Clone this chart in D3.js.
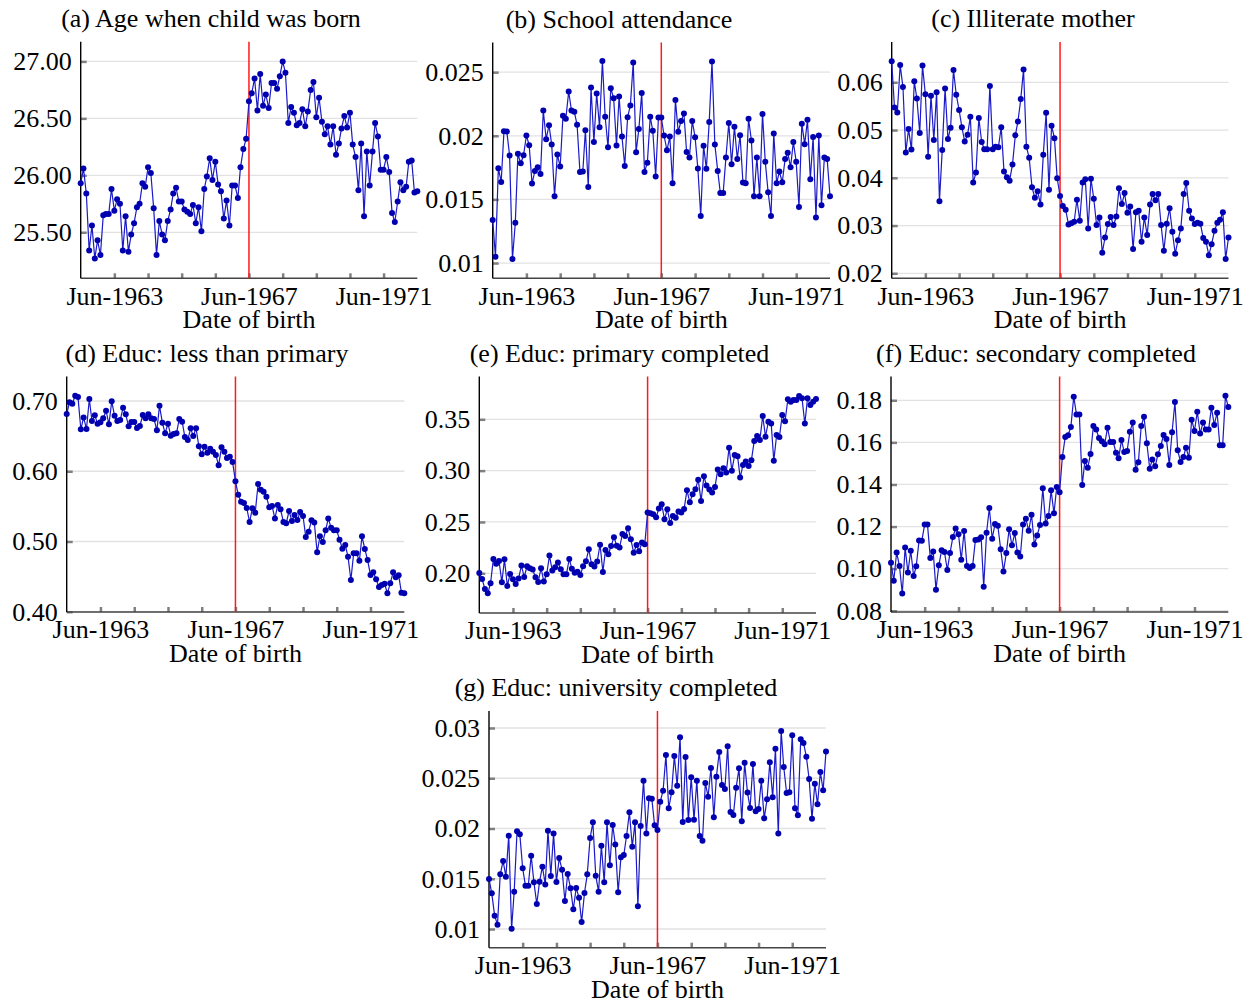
<!DOCTYPE html>
<html>
<head>
<meta charset="utf-8">
<script src="https://cdn.jsdelivr.net/npm/d3@7"></script>
<style>
  body { margin: 0; background: #fff; }
  svg { display: block; }
</style>
</head>
<body>
<svg id="chart" width="1255" height="1004"></svg>
<script>
// monthly birth cohorts, Jun-1962 .. Jun-1972
const months = d3.timeMonth.range(new Date(1962, 5, 1), new Date(1972, 6, 1));
const cutoff = new Date(1967, 5, 1);
const tickYears = [1963, 1964, 1965, 1966, 1967, 1968, 1969, 1970, 1971];
const labelYears = [1963, 1967, 1971];

const ageBorn = [25.93, 26.06, 25.84, 25.34, 25.56, 25.27, 25.43, 25.30, 25.65, 25.66, 25.66, 25.88, 25.69, 25.79, 25.75, 25.34, 25.64, 25.33, 25.48, 25.58, 25.72, 25.75, 25.93, 25.90, 26.07, 26.02, 25.71, 25.30, 25.60, 25.48, 25.43, 25.60, 25.70, 25.84, 25.89, 25.77, 25.77, 25.70, 25.68, 25.66, 25.74, 25.58, 25.72, 25.51, 25.88, 25.99, 26.15, 25.96, 26.12, 25.92, 25.86, 25.62, 25.78, 25.56, 25.91, 25.91, 25.80, 26.07, 26.23, 26.32,
  26.65, 26.72, 26.85, 26.57, 26.89, 26.61, 26.71, 26.59, 26.81, 26.81, 26.76, 26.87, 27.00, 26.90, 26.46, 26.60, 26.55, 26.44, 26.46, 26.58, 26.43, 26.56, 26.75, 26.82, 26.51, 26.68, 26.47, 26.36, 26.43, 26.27, 26.43, 26.18, 26.28, 26.41, 26.52, 26.42, 26.55, 26.27, 26.16, 25.87, 26.28, 25.64, 26.21, 25.91, 26.21, 26.46, 26.34, 26.05, 26.05, 26.16, 26.03, 25.67, 25.59, 25.77, 25.94, 25.87, 25.90, 26.12, 26.13, 25.85, 25.86];

const schoolAttend = [0.01338, 0.01050, 0.01745, 0.01637, 0.02036, 0.02033, 0.01845, 0.01032, 0.01317, 0.01858, 0.01784, 0.01847, 0.02002, 0.01926, 0.01624, 0.01724, 0.01753, 0.01700, 0.02198, 0.01973, 0.02083, 0.01931, 0.01525, 0.01852, 0.01758, 0.02157, 0.02133, 0.02348, 0.02198, 0.02188, 0.02086, 0.01716, 0.01719, 0.02044, 0.01598, 0.02379, 0.01952, 0.02332, 0.02067, 0.02587, 0.02149, 0.01910, 0.02374, 0.02295, 0.01923, 0.02309, 0.01994, 0.01763, 0.02146, 0.02238, 0.02576, 0.01871, 0.02054, 0.02337, 0.01716, 0.01789, 0.02149, 0.02039, 0.01679, 0.02143,
  0.02143, 0.02002, 0.01886, 0.01994, 0.01627, 0.02282, 0.02031, 0.02117, 0.02175, 0.01873, 0.01829, 0.02117, 0.01989, 0.01742, 0.01370, 0.01921, 0.01740, 0.02109, 0.02584, 0.01931, 0.01724, 0.01551, 0.01551, 0.01829, 0.02101, 0.01776, 0.02070, 0.01818, 0.02004, 0.01632, 0.01627, 0.02133, 0.01963, 0.01525, 0.01829, 0.01525, 0.02172, 0.01795, 0.01556, 0.01370, 0.02018, 0.01627, 0.01719, 0.01635, 0.01818, 0.01866, 0.01753, 0.01952, 0.01795, 0.01441, 0.02094, 0.01934, 0.02125, 0.01658, 0.01991, 0.01357, 0.02002, 0.01454, 0.01829, 0.01818, 0.01525];

const illiterate = [0.0644, 0.0547, 0.0537, 0.0636, 0.0590, 0.0453, 0.0502, 0.0459, 0.0602, 0.0566, 0.0494, 0.0635, 0.0575, 0.0444, 0.0572, 0.0479, 0.0579, 0.0351, 0.0458, 0.0587, 0.0481, 0.0505, 0.0626, 0.0574, 0.0542, 0.0506, 0.0476, 0.0490, 0.0528, 0.0390, 0.0411, 0.0525, 0.0475, 0.0460, 0.0460, 0.0592, 0.0460, 0.0465, 0.0464, 0.0506, 0.0413, 0.0401, 0.0394, 0.0428, 0.0489, 0.0518, 0.0565, 0.0627, 0.0465, 0.0442, 0.0380, 0.0358, 0.0372, 0.0344, 0.0448, 0.0536, 0.0375, 0.0509, 0.0483, 0.0399,
  0.0362, 0.0341, 0.0333, 0.0302, 0.0305, 0.0308, 0.0354, 0.0310, 0.0390, 0.0397, 0.0294, 0.0398, 0.0356, 0.0301, 0.0317, 0.0243, 0.0275, 0.0303, 0.0318, 0.0301, 0.0319, 0.0378, 0.0345, 0.0368, 0.0327, 0.0340, 0.0251, 0.0328, 0.0331, 0.0266, 0.0317, 0.0280, 0.0344, 0.0366, 0.0353, 0.0366, 0.0301, 0.0247, 0.0304, 0.0336, 0.0287, 0.0241, 0.0269, 0.0294, 0.0366, 0.0389, 0.0331, 0.0315, 0.0303, 0.0306, 0.0304, 0.0274, 0.0266, 0.0238, 0.0261, 0.0289, 0.0306, 0.0312, 0.0328, 0.0230, 0.0275];

const lessPrimary = [0.6815, 0.6981, 0.6962, 0.7076, 0.7057, 0.6597, 0.6767, 0.6601, 0.7028, 0.6715, 0.6796, 0.6677, 0.6696, 0.6753, 0.6862, 0.6668, 0.6995, 0.6791, 0.6715, 0.6729, 0.6905, 0.6810, 0.6639, 0.6701, 0.6701, 0.6616, 0.6644, 0.6801, 0.6753, 0.6810, 0.6753, 0.6744, 0.6582, 0.6934, 0.6691, 0.6540, 0.6677, 0.6506, 0.6530, 0.6540, 0.6744, 0.6706, 0.6487, 0.6445, 0.6611, 0.6502, 0.6611, 0.6355, 0.6241, 0.6350, 0.6264, 0.6321, 0.6279, 0.6231, 0.6084, 0.6340, 0.6279, 0.6188, 0.6207, 0.6131,
  0.5856, 0.5666, 0.5567, 0.5548, 0.5477, 0.5277, 0.5472, 0.5410, 0.5818, 0.5738, 0.5709, 0.5638, 0.5486, 0.5505, 0.5329, 0.5519, 0.5458, 0.5277, 0.5258, 0.5434, 0.5292, 0.5377, 0.5306, 0.5420, 0.5363, 0.5064, 0.5140, 0.5301, 0.5272, 0.4845, 0.5073, 0.4992, 0.5159, 0.5329, 0.5197, 0.5159, 0.5159, 0.5026, 0.4897, 0.4950, 0.4784, 0.4451, 0.4831, 0.4831, 0.4727, 0.5073, 0.4893, 0.4736, 0.4523, 0.4561, 0.4461, 0.4352, 0.4380, 0.4399, 0.4262, 0.4404, 0.4561, 0.4489, 0.4518, 0.4271, 0.4262];

const primaryDone = [0.2003, 0.1945, 0.1847, 0.1805, 0.1903, 0.2140, 0.2094, 0.2120, 0.1912, 0.2136, 0.1877, 0.1994, 0.1942, 0.1896, 0.1948, 0.2075, 0.1964, 0.2068, 0.2049, 0.2036, 0.1961, 0.1916, 0.2049, 0.1919, 0.1990, 0.2172, 0.2026, 0.2058, 0.2104, 0.2039, 0.1990, 0.1990, 0.2140, 0.2045, 0.2006, 0.2016, 0.1984, 0.2068, 0.2117, 0.2234, 0.2088, 0.2065, 0.2114, 0.2279, 0.2013, 0.2227, 0.2185, 0.2266, 0.2351, 0.2269, 0.2250, 0.2383, 0.2364, 0.2438, 0.2331, 0.2201, 0.2276, 0.2214, 0.2299, 0.2282,
  0.2591, 0.2584, 0.2575, 0.2545, 0.2630, 0.2672, 0.2526, 0.2623, 0.2490, 0.2558, 0.2542, 0.2601, 0.2591, 0.2627, 0.2808, 0.2692, 0.2769, 0.2818, 0.2912, 0.2705, 0.2945, 0.2854, 0.2815, 0.2786, 0.2841, 0.3010, 0.2964, 0.3023, 0.2981, 0.3224, 0.3000, 0.3153, 0.3140, 0.2932, 0.3055, 0.3088, 0.3045, 0.3101, 0.3289, 0.3338, 0.3299, 0.3532, 0.3331, 0.3477, 0.3458, 0.3097, 0.3347, 0.3328, 0.3542, 0.3481, 0.3695, 0.3672, 0.3688, 0.3688, 0.3727, 0.3705, 0.3458, 0.3705, 0.3640, 0.3672, 0.3698];

const secondaryDone = [0.1028, 0.0943, 0.1077, 0.1012, 0.0882, 0.1100, 0.0982, 0.1085, 0.0965, 0.1011, 0.1134, 0.1133, 0.1210, 0.1210, 0.1050, 0.1082, 0.0900, 0.1016, 0.1087, 0.1079, 0.0993, 0.1074, 0.1150, 0.1191, 0.1164, 0.1042, 0.1179, 0.1012, 0.1003, 0.1012, 0.1136, 0.1138, 0.1149, 0.0914, 0.1171, 0.1288, 0.1142, 0.1212, 0.1204, 0.1092, 0.0987, 0.1074, 0.1187, 0.1111, 0.1169, 0.1077, 0.1058, 0.1210, 0.1237, 0.1180, 0.1256, 0.1115, 0.1158, 0.1207, 0.1382, 0.1214, 0.1250, 0.1372, 0.1263, 0.1388,
  0.1363, 0.1531, 0.1626, 0.1634, 0.1673, 0.1817, 0.1733, 0.1733, 0.1397, 0.1512, 0.1480, 0.1545, 0.1678, 0.1661, 0.1621, 0.1605, 0.1591, 0.1670, 0.1602, 0.1602, 0.1551, 0.1524, 0.1611, 0.1554, 0.1559, 0.1651, 0.1694, 0.1470, 0.1505, 0.1678, 0.1722, 0.1596, 0.1475, 0.1519, 0.1486, 0.1543, 0.1583, 0.1635, 0.1616, 0.1493, 0.1648, 0.1792, 0.1562, 0.1507, 0.1531, 0.1575, 0.1527, 0.1708, 0.1654, 0.1746, 0.1642, 0.1694, 0.1661, 0.1661, 0.1765, 0.1683, 0.1741, 0.1586, 0.1586, 0.1821, 0.1768];

const universityDone = [0.01498, 0.01355, 0.01133, 0.01043, 0.01544, 0.01677, 0.01521, 0.01929, 0.01003, 0.01371, 0.01972, 0.01942, 0.01604, 0.01431, 0.01431, 0.01730, 0.01464, 0.01249, 0.01471, 0.01620, 0.01444, 0.01978, 0.01527, 0.01949, 0.01468, 0.01706, 0.01590, 0.01279, 0.01547, 0.01405, 0.01196, 0.01408, 0.01312, 0.01070, 0.01358, 0.01544, 0.01905, 0.02061, 0.01531, 0.01371, 0.01829, 0.01464, 0.02061, 0.01634, 0.02035, 0.01842, 0.01365, 0.01713, 0.01736, 0.01925, 0.02161, 0.01819, 0.02061, 0.01226, 0.02025, 0.02476, 0.01949, 0.02300, 0.02297, 0.02032,
  0.01985, 0.02267, 0.02376, 0.02731, 0.02201, 0.02360, 0.02721, 0.02426, 0.02907, 0.02065, 0.02711, 0.02085, 0.02509, 0.02088, 0.02476, 0.01925, 0.01879, 0.02453, 0.02317, 0.02602, 0.02111, 0.02516, 0.02761, 0.02433, 0.02393, 0.02818, 0.02164, 0.02134, 0.02406, 0.02599, 0.02071, 0.02655, 0.02357, 0.02204, 0.02642, 0.02171, 0.02194, 0.02476, 0.02101, 0.02290, 0.02658, 0.02310, 0.02794, 0.01949, 0.02970, 0.02612, 0.02353, 0.02360, 0.02927, 0.02201, 0.02131, 0.02887, 0.02851, 0.02715, 0.02493, 0.02098, 0.02446, 0.02240, 0.02562, 0.02380, 0.02765];

const fmt2 = d3.format(".2f");
const fmtTrim = d3.format("~g");

const panels = [
  { title: "(a) Age when child was born", values: ageBorn, left: 80.7, right: 417.3, top: 41.7, bottom: 278.3,
    yDomain: [25.096, 27.173], yTicks: [25.5, 26, 26.5, 27], fmt: fmt2, titleX: 211 },
  { title: "(b) School attendance", values: schoolAttend, left: 492.7, right: 830, top: 42.5, bottom: 278.3,
    yDomain: [0.0088, 0.02733], yTicks: [0.01, 0.015, 0.02, 0.025], fmt: fmtTrim, titleX: 619 },
  { title: "(c) Illiterate mother", values: illiterate, left: 891.7, right: 1228.5, top: 42, bottom: 278.3,
    yDomain: [0.01895, 0.06844], yTicks: [0.02, 0.03, 0.04, 0.05, 0.06], fmt: fmtTrim, titleX: 1033 },
  { title: "(d) Educ: less than primary", values: lessPrimary, left: 66.7, right: 404.3, top: 376.5, bottom: 612,
    yDomain: [0.3996, 0.7349], yTicks: [0.4, 0.5, 0.6, 0.7], fmt: fmt2, titleX: 207 },
  { title: "(e) Educ: primary completed", values: primaryDone, left: 479.3, right: 816, top: 376.5, bottom: 613,
    yDomain: [0.1613, 0.3917], yTicks: [0.2, 0.25, 0.3, 0.35], fmt: fmt2, titleX: 619.5 },
  { title: "(f) Educ: secondary completed", values: secondaryDone, left: 891, right: 1228.3, top: 376.5, bottom: 612,
    yDomain: [0.0794, 0.1913], yTicks: [0.08, 0.1, 0.12, 0.14, 0.16, 0.18], fmt: fmt2, titleX: 1036 },
  { title: "(g) Educ: university completed", values: universityDone, left: 489, right: 826, top: 711, bottom: 947.7,
    yDomain: [0.00814, 0.03169], yTicks: [0.01, 0.015, 0.02, 0.025, 0.03], fmt: fmtTrim, titleX: 616 }
];

const FONT = "'Liberation Serif', 'Times New Roman', serif";
const svg = d3.select("#chart");

panels.forEach(p => {
  const x = d3.scaleTime().domain([months[0], months[months.length - 1]]).range([p.left, p.right]);
  const y = d3.scaleLinear().domain(p.yDomain).range([p.bottom, p.top]);
  const g = svg.append("g");

  // horizontal grid
  g.selectAll(".grid").data(p.yTicks).join("line")
    .attr("x1", p.left).attr("x2", p.right)
    .attr("y1", d => y(d)).attr("y2", d => y(d))
    .attr("stroke", "#e2e2e2").attr("stroke-width", 1.3);

  // y axis
  const yAxis = g.append("g").attr("transform", `translate(${p.left},0)`)
    .call(d3.axisLeft(y).tickValues(p.yTicks).tickFormat(p.fmt).tickSize(-6).tickSizeOuter(0).tickPadding(9));
  yAxis.select(".domain").remove();
  yAxis.selectAll(".tick line").attr("stroke", "#808080").attr("stroke-width", 2.5);
  yAxis.selectAll("text").attr("font-family", FONT).attr("font-size", 26).attr("fill", "#000");

  // x axis
  const junTicks = tickYears.map(yr => new Date(yr, 5, 1));
  const xAxis = g.append("g").attr("transform", `translate(0,${p.bottom})`)
    .call(d3.axisBottom(x).tickValues(junTicks).tickSize(-5).tickSizeOuter(0).tickPadding(8)
      .tickFormat(d => labelYears.includes(d.getFullYear()) ? "Jun-" + d.getFullYear() : ""));
  xAxis.select(".domain").remove();
  xAxis.selectAll(".tick line").attr("stroke", "#808080").attr("stroke-width", 2.5);
  xAxis.selectAll("text").attr("font-family", FONT).attr("font-size", 26).attr("fill", "#000");

  // frame lines
  g.append("line").attr("x1", p.left).attr("x2", p.right).attr("y1", p.bottom).attr("y2", p.bottom)
    .attr("stroke", "#444").attr("stroke-width", 1.6);
  g.append("line").attr("x1", p.left).attr("x2", p.left).attr("y1", p.top).attr("y2", p.bottom)
    .attr("stroke", "#000").attr("stroke-width", 1.4);

  // cutoff
  g.append("line").attr("x1", x(cutoff)).attr("x2", x(cutoff)).attr("y1", p.top).attr("y2", p.bottom)
    .attr("stroke", "#ff1a1a").attr("stroke-width", 1.5);

  // series
  const pts = months.map((m, i) => [m, p.values[i]]);
  g.append("path").datum(pts)
    .attr("fill", "none").attr("stroke", "#1a1ac8").attr("stroke-width", 1.2)
    .attr("d", d3.line().x(d => x(d[0])).y(d => y(d[1])));
  g.selectAll(".dot").data(pts).join("circle")
    .attr("cx", d => x(d[0])).attr("cy", d => y(d[1])).attr("r", 3)
    .attr("fill", "#0000b0");

  // labels
  g.append("text").attr("x", p.titleX).attr("y", p.top - 15)
    .attr("text-anchor", "middle").attr("font-family", FONT).attr("font-size", 26)
    .text(p.title);
  g.append("text").attr("x", (p.left + p.right) / 2).attr("y", p.bottom + 50)
    .attr("text-anchor", "middle").attr("font-family", FONT).attr("font-size", 26)
    .text("Date of birth");
});
</script>
</body>
</html>
